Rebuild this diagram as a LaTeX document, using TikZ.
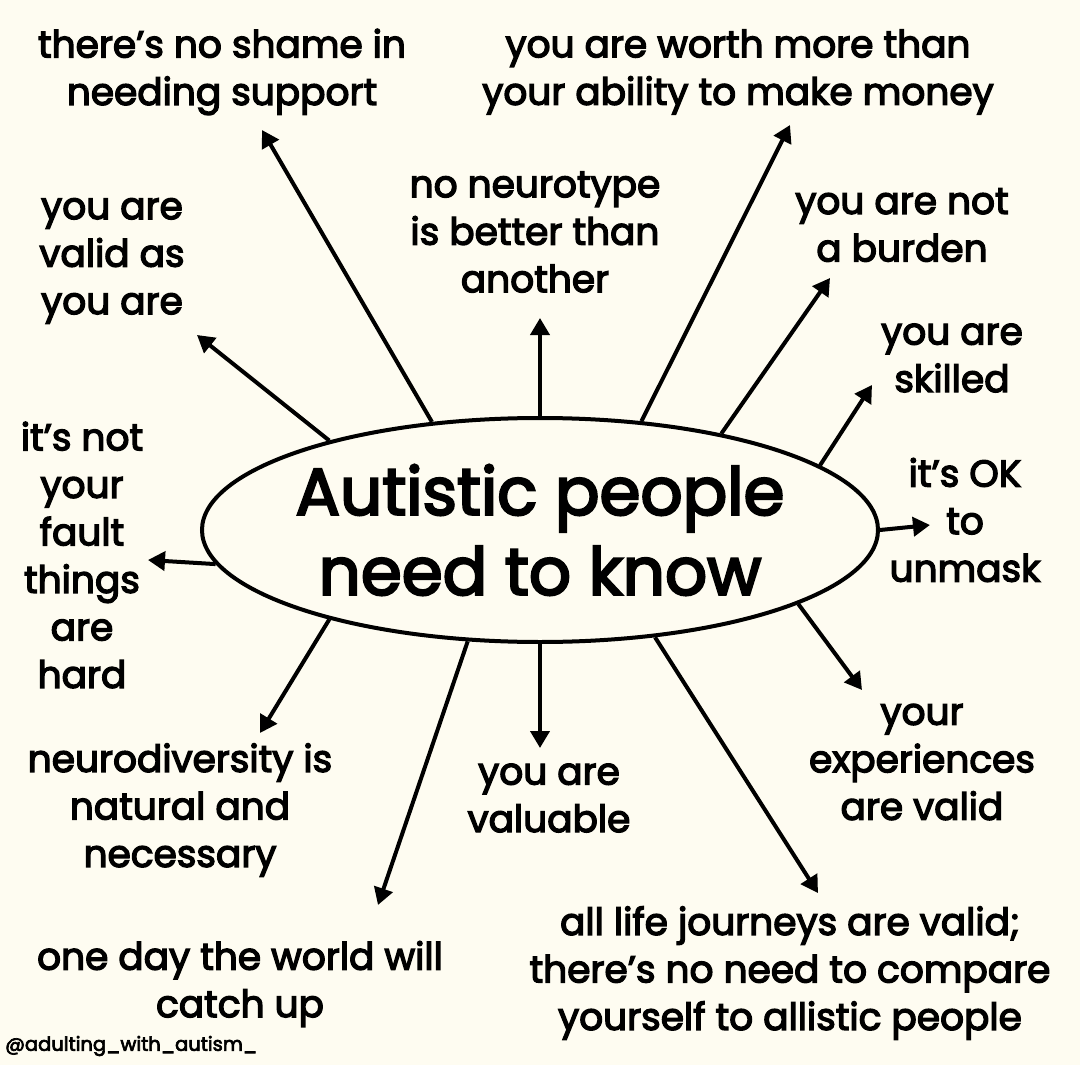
\documentclass[tikz,border=0pt]{standalone}
\usepackage{fontspec}
\setmainfont{Poppins}[FakeBold=3.5]
\usepackage{tikz}
\usetikzlibrary{arrows.meta,shapes.geometric}
\definecolor{cream}{RGB}{254,252,241}
\definecolor{ink}{RGB}{0,0,0}
\tikzset{
  hub/.style={draw=ink, ellipse, line width=4pt, fill=cream, minimum width=676pt, minimum height=224pt, inner xsep=-30pt, inner ysep=0pt, align=center, font=\fontsize{66}{80}\selectfont},
  msg/.style={align=center, inner sep=0pt, font=\fontsize{37.5}{47.5}\selectfont},
  arrow/.style={-{Triangle[length=17pt,width=19pt]}, line width=4pt, draw=ink},
  tag/.style={anchor=west, inner sep=0pt, font=\fontsize{19.5}{22}\selectfont}
}

\begin{document}
\begin{tikzpicture}[x=1pt,y=-1pt]
  \fill[cream] (0,0) rectangle (1080,1065);
  \node[hub] (know) at (540,530) {Autistic people\\need to know};
  % messages round the hub
  \node[msg] (shame) at (222,72) {there’s no shame in\\needing support};
  \node[msg] (worth) at (738,72) {you are worth more than\\your ability to make money};
  \node[msg] (neuro) at (535,232) {no neurotype\\is better than\\another};
  \node[msg] (valid) at (112,261) {you are\\valid as\\you are};
  \node[msg] (burden) at (902,225) {you are not\\a burden};
  \node[msg] (skill) at (952,358) {you are\\skilled};
  \node[msg] (unmask) at (965,520) {it’s OK\\to\\unmask};
  \node[msg] (fault) at (82,555) {it’s not\\your\\fault\\things\\are\\hard};
  \node[msg] (divers) at (180,810) {neurodiversity is\\natural and\\necessary};
  \node[msg] (value) at (549,798) {you are\\valuable};
  \node[msg] (exper) at (922,762) {your\\experiences\\are valid};
  \node[msg] (oneday) at (240,984) {one day the world will\\catch up};
  \node[msg] (journey) at (790,973) {all life journeys are valid;\\there’s no need to compare\\yourself to allistic people};
  \node[tag] (handle) at (5,1046) {@adulting\_with\_autism\_};
  % arrow tips
  \coordinate (shametip) at (262,130);
  \coordinate (validtip) at (197,335);
  \coordinate (neurotip) at (540,318);
  \coordinate (worthtip) at (790,125);
  \coordinate (burdentip) at (830,278);
  \coordinate (skilltip) at (872,385);
  \coordinate (unmasktip) at (930,525);
  \coordinate (expertip) at (862,690);
  \coordinate (journeytip) at (818,893);
  \coordinate (valuetip) at (540,748);
  \coordinate (onedaytip) at (378,905);
  \coordinate (diverstip) at (260,733);
  \coordinate (faulttip) at (148,560);
  \draw[arrow] (know.135.8) -- (shametip);
  \draw[arrow] (know.157.1) -- (validtip);
  \draw[arrow] (know.90) -- (neurotip);
  \draw[arrow] (know.47.2) -- (worthtip);
  \draw[arrow] (know.28.3) -- (burdentip);
  \draw[arrow] (know.13.8) -- (skilltip);
  \draw[arrow] (know.0) -- (unmasktip);
  \draw[arrow] (know.-16.3) -- (expertip);
  \draw[arrow] (know.-43.8) -- (journeytip);
  \draw[arrow] (know.-90) -- (valuetip);
  \draw[arrow] (know.-123.5) -- (onedaytip);
  \draw[arrow] (know.-157.3) -- (diverstip);
  \draw[arrow] (know.-174.7) -- (faulttip);
\end{tikzpicture}
\end{document}
